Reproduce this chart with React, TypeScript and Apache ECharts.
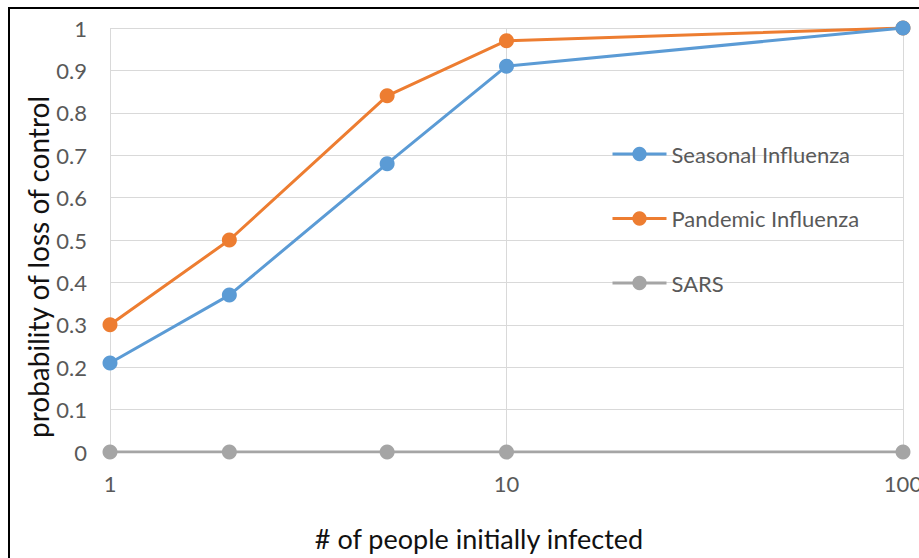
import React, { useEffect, useRef } from "react";
import * as echarts from "echarts";

const xValues = [1, 2, 5, 10, 100];
const seasonal = [0.21, 0.37, 0.68, 0.91, 1.0];
const pandemic = [0.3, 0.5, 0.84, 0.97, 1.0];
const sars = [0, 0, 0, 0, 0];
const seriesNames = ["Seasonal Influenza", "Pandemic Influenza", "SARS"];
const colors = ["#5B9BD5", "#ED7D31", "#A5A5A5"];
const xTitle = "# of people initially infected";
const yTitle = "probability of loss of control";

const FONT = "Lato, 'Open Sans', sans-serif";

export default function App() {
  const ref = useRef<HTMLDivElement>(null);
  useEffect(() => {
    if (!ref.current) return;
    const chart = echarts.init(ref.current, null, { renderer: "svg" });
    const mk = (vals: number[]) => xValues.map((x, i) => [x, vals[i]]);
    const allData = [seasonal, pandemic, sars];
    chart.setOption({
      animation: false,
      backgroundColor: "#ffffff",
      textStyle: { fontFamily: FONT },
      grid: {
        left: 110,
        right: 16,
        top: 28,
        bottom: 106,
        outerBoundsMode: "none",
        containLabel: false,
      },
      legend: {
        orient: "vertical",
        left: 606,
        top: 138,
        itemWidth: 54,
        itemHeight: 18,
        itemGap: 42.5,
        data: seriesNames,
        lineStyle: { width: 3 },
        textStyle: {
          fontFamily: FONT,
          fontSize: 22,
          color: "#595959",
          lineHeight: 20,
        },
      },
      xAxis: {
        type: "log",
        logBase: 10,
        min: 1,
        max: 100,
        axisLine: { show: true, lineStyle: { color: "#d9d9d9" } },
        axisTick: { show: false },
        axisLabel: {
          color: "#595959",
          fontSize: 22,
          fontFamily: FONT,
          margin: 20,
        },
        splitLine: { show: true, lineStyle: { color: "#d9d9d9", width: 1 } },
        minorSplitLine: { show: false },
      },
      yAxis: {
        type: "value",
        min: 0,
        max: 1,
        interval: 0.1,
        axisLine: { show: false },
        axisTick: { show: false },
        axisLabel: {
          color: "#595959",
          fontSize: 22,
          fontFamily: FONT,
          margin: 23,
        },
        splitLine: { show: true, lineStyle: { color: "#d9d9d9", width: 1 } },
      },
      series: allData.map((vals, i) => ({
        name: seriesNames[i],
        type: "line",
        data: mk(vals),
        symbol: "circle",
        symbolSize: 15,
        color: colors[i],
        lineStyle: { width: 3, color: colors[i] },
        itemStyle: { color: colors[i] },
        z: 10 - i,
      })),
      graphic: [
        {
          type: "rect",
          shape: { x: 9, y: 8, width: 1200, height: 1200 },
          style: { fill: "none", stroke: "#000000", lineWidth: 2 },
          silent: true,
        },
        {
          type: "text",
          x: 479,
          y: 538,
          style: {
            text: xTitle,
            fontFamily: FONT,
            fontSize: 27,
            fill: "#111111",
            align: "center",
            verticalAlign: "middle",
          },
        },
        {
          type: "text",
          x: 38,
          y: 267,
          rotation: Math.PI / 2,
          style: {
            text: yTitle,
            fontFamily: FONT,
            fontSize: 28,
            fill: "#111111",
            align: "center",
            verticalAlign: "middle",
          },
        },
      ],
    });
    return () => chart.dispose();
  }, []);
  return (
    <div
      ref={ref}
      style={{ position: "fixed", left: 0, top: 0, width: 919, height: 558, overflow: "hidden" }}
    />
  );
}
